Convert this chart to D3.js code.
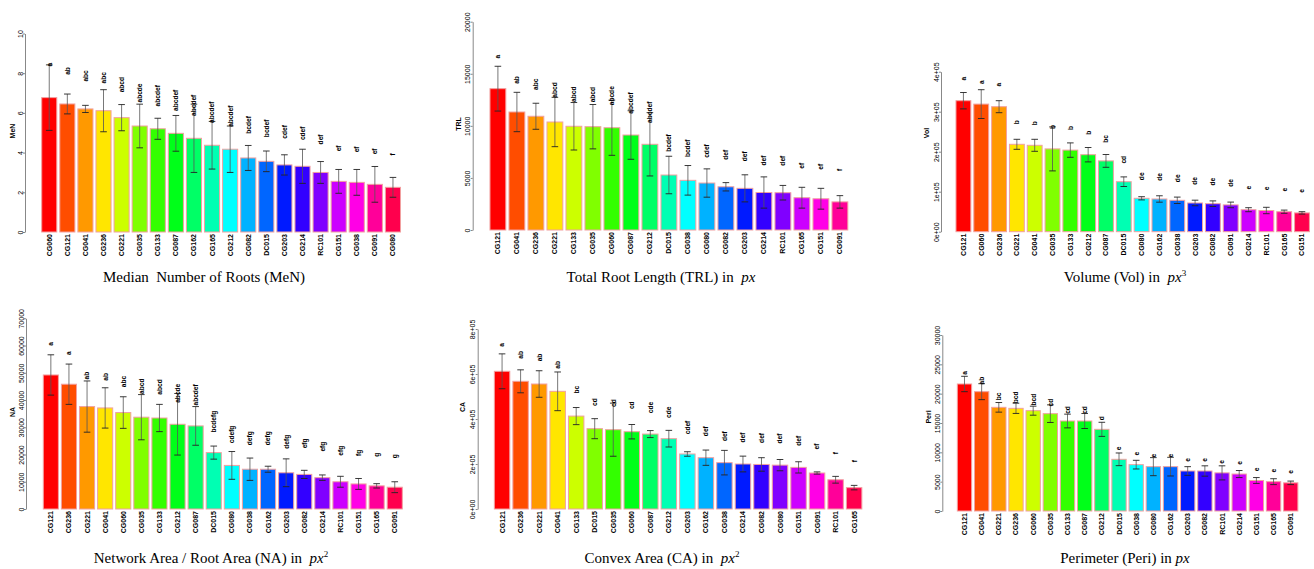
<!DOCTYPE html>
<html>
<head>
<meta charset="utf-8">
<script src="https://cdn.jsdelivr.net/npm/d3@7"></script>
<style>
  body { margin: 0; background: #fff; }
  text { font-family: "Liberation Sans", Arial, sans-serif; }
  .title { font-family: "Liberation Serif", "Times New Roman", serif; white-space: pre; }
</style>
</head>
<body>
<script>
// ---- data ----
const menNames = ["CG060","CG121","CG041","CG236","CG221","CG035","CG133","CG087","CG162","CG165","CG212","CG082","DC015","CG203","CG214","RC101","CG151","CG038","CG091","CG080"];
const menMeans = [6.77,6.45,6.2,6.11,5.76,5.34,5.2,4.97,4.72,4.37,4.17,3.73,3.56,3.38,3.31,3.0,2.55,2.5,2.4,2.25];
const menSd    = [1.65,0.5,0.18,1.06,0.66,1.1,0.53,0.9,1.72,1.2,1.17,0.63,0.52,0.51,0.86,0.55,0.6,0.65,0.9,0.5];
const menLetters = ["a","ab","abc","abc","abcd","abcde","abcdef","abcdef","abcdef","abcdef","abcdef","bcdef","bcdef","cdef","cdef","def","ef","ef","ef","f"];
const menTicks = [0,2,4,6,8,10];

const trlNames = ["CG121","CG041","CG236","CG221","CG133","CG035","CG060","CG087","CG212","DC015","CG038","CG080","CG082","CG203","CG214","RC101","CG165","CG151","CG091"];
const trlMeans = [13570,11330,10920,10370,9960,9920,9820,9120,8230,5280,4770,4510,4150,4000,3600,3580,3100,3000,2700];
const trlSd    = [2150,1890,1250,2370,2280,2130,2650,2330,3040,1800,1420,1360,400,1300,1500,700,1000,1000,600];
const trlLetters = ["a","ab","abc","abcd","abcd","abcd","abcde","abcdef","abcdef","bcdef","bcdef","cdef","def","def","def","def","ef","ef","f"];
const trlTicks = [0,5000,10000,15000,20000];

const volNames = ["CG121","CG060","CG236","CG221","CG041","CG035","CG133","CG212","CG087","DC015","CG080","CG162","CG038","CG203","CG082","CG091","CG214","RC101","CG165","CG151"];
const volMeans = [327500,319000,312500,218500,216000,207000,204000,192500,177000,125000,83500,81800,78500,71800,70000,67000,55000,53000,50000,47000];
const volSd    = [20500,36000,15000,12500,15000,55000,18000,18000,16000,12000,4000,8000,8000,7000,7000,7000,5000,8000,4000,3000];
const volLetters = ["a","a","a","b","b","b","b","b","bc","cd","de","de","de","de","de","de","e","e","e","e"];
const volTicks = [0,100000,200000,300000,400000];

const naNames = ["CG121","CG236","CG221","CG041","CG060","CG035","CG133","CG212","CG087","DC015","CG080","CG038","CG162","CG203","CG082","CG214","RC101","CG151","CG165","CG091"];
const naMeans = [49200,45800,37600,37100,35400,33700,33400,31100,30500,20700,16000,14600,14600,13300,12700,11500,10000,9200,8500,8000];
const naSd    = [7400,7400,9400,7400,5800,8300,5000,11300,7100,2400,5100,4100,1100,5100,1500,1000,2000,2000,800,2000];
const naLetters = ["a","a","ab","ab","abc","abcd","abcd","abcde","abcdef","bcdefg","cdefg","defg","defg","defg","efg","efg","efg","fg","g","g"];
const naTicks = [0,10000,20000,30000,40000,50000,60000,70000];

const caNames = ["CG121","CG236","CG221","CG041","CG133","DC015","CG035","CG060","CG087","CG212","CG203","CG162","CG038","CG214","CG082","CG080","CG151","CG091","RC101","CG165"];
const caMeans = [612000,567500,555500,523000,413000,357000,352500,343500,333000,312500,244500,228000,206000,200000,198000,195000,185000,160000,130000,95000];
const caSd    = [77500,51000,59000,86000,38000,44500,118000,32000,15500,37000,10000,34000,54500,35000,30000,25000,25000,5000,15000,10000];
const caLetters = ["a","ab","ab","ab","bc","cd","cd","cd","cde","cde","cdef","def","def","def","def","def","def","ef","f","f"];
const caTicks = [0,200000,400000,600000,800000];

const periNames = ["CG121","CG041","CG221","CG236","CG060","CG035","CG133","CG087","CG212","DC015","CG038","CG080","CG162","CG203","CG082","RC101","CG214","CG151","CG165","CG091"];
const periMeans = [21650,20340,17670,17500,17100,16590,15340,15340,13920,8810,7900,7560,7560,6820,6820,6500,6300,5200,5000,4800];
const periSd    = [1310,1360,820,870,770,1500,1170,1280,1200,1080,740,1540,1590,740,880,1200,600,500,500,300];
const periLetters = ["a","ab","bc","bcd","bcd","cd","cd","cd","d","e","e","e","e","e","e","e","e","e","e","e"];
const periTicks = [0,5000,10000,15000,20000,25000,30000];

const sci = d => d === 0 ? "0e+00" : (d / 1e5) + "e+05";
const plain = d => String(d);

// R rainbow(20)
const barColor = i => d3.hsl(i / 20 * 360, 1, 0.5).toString();

const svg = d3.select("body").append("svg")
  .attr("width", 1314)
  .attr("height", 569);

const panels = [
  { names: menNames, means: menMeans, sd: menSd, letters: menLetters, ticks: menTicks, fmt: plain,
    x0: 40.2, step: 18.09, axisX: 25, y0: 232, yTop: 33.5, letterOff: 33,
    ylab: "MeN", ylabX: 14.5, ylabY: 131, titleX: 204, titleY: 282,
    title: [["Median  Number of Roots (MeN)"]] },
  { names: trlNames, means: trlMeans, sd: trlSd, letters: trlLetters, ticks: trlTicks, fmt: plain,
    x0: 488.4, step: 19, axisX: 472.7, y0: 230, yTop: 21.7, letterOff: 32,
    ylab: "TRL", ylabX: 461, ylabY: 124, titleX: 661, titleY: 282,
    title: [["Total Root Length (TRL) in  "], ["px", "i"]] },
  { names: volNames, means: volMeans, sd: volSd, letters: volLetters, ticks: volTicks, fmt: sci,
    x0: 954.5, step: 17.82, axisX: 941, y0: 231.7, yTop: 71.7, letterOff: 22,
    ylab: "Vol", ylabX: 928.5, ylabY: 133, titleX: 1125, titleY: 282,
    title: [["Volume (Vol) in  "], ["px", "i"], ["3", "s"]] },
  { names: naNames, means: naMeans, sd: naSd, letters: naLetters, ticks: naTicks, fmt: plain,
    x0: 41.8, step: 18.1, axisX: 26, y0: 509, yTop: 318.3, letterOff: 31,
    ylab: "NA", ylabX: 15, ylabY: 412, titleX: 211, titleY: 563,
    title: [["Network Area / Root Area (NA) in  "], ["px", "i"], ["2", "s"]] },
  { names: caNames, means: caMeans, sd: caSd, letters: caLetters, ticks: caTicks, fmt: sci,
    x0: 492.8, step: 18.53, axisX: 477.7, y0: 509, yTop: 329, letterOff: 26.5,
    ylab: "CA", ylabX: 464.5, ylabY: 407, titleX: 662, titleY: 563,
    title: [["Convex Area (CA) in  "], ["px", "i"], ["2", "s"]] },
  { names: periNames, means: periMeans, sd: periSd, letters: periLetters, ticks: periTicks, fmt: plain,
    x0: 955.9, step: 17.17, axisX: 942.3, y0: 511, yTop: 335, letterOff: 11,
    ylab: "Peri", ylabX: 931, ylabY: 417, titleX: 1125, titleY: 563,
    title: [["Perimeter (Peri) in "], ["px", "i"]] }
];

function drawPanel(p) {
  const g = svg.append("g");
  const n = p.names.length;

  const x = d3.scaleBand()
    .domain(p.names)
    .range([p.x0, p.x0 + n * p.step])
    .paddingInner(1 / 6)
    .paddingOuter(1 / 12);

  const y = d3.scaleLinear()
    .domain([0, d3.max(p.ticks)])
    .range([p.y0, p.yTop]);

  const rows = p.names.map((name, i) => ({ name, i, mean: p.means[i], sd: p.sd[i], letter: p.letters[i] }));

  // bars
  g.selectAll(".bar")
    .data(rows)
    .enter()
    .append("rect")
    .attr("x", d => x(d.name))
    .attr("y", d => y(d.mean))
    .attr("width", x.bandwidth())
    .attr("height", d => y(0) - y(d.mean))
    .attr("fill", d => barColor(d.i))
    .attr("stroke", "#f2a0a0")
    .attr("stroke-width", 1);

  // error bars
  const cx = d => x(d.name) + x.bandwidth() / 2;
  const err = g.selectAll(".err")
    .data(rows)
    .enter()
    .append("g");
  err.append("line")
    .attr("x1", cx).attr("x2", cx)
    .attr("y1", d => y(d.mean + d.sd))
    .attr("y2", d => y(d.mean - d.sd))
    .attr("stroke", "#555")
    .attr("stroke-width", 0.8);
  [1, -1].forEach(s => {
    err.append("line")
      .attr("x1", d => cx(d) - 3.3)
      .attr("x2", d => cx(d) + 3.3)
      .attr("y1", d => y(d.mean + s * d.sd))
      .attr("y2", d => y(d.mean + s * d.sd))
      .attr("stroke", "#222")
      .attr("stroke-width", 0.9);
  });

  // significance letters
  g.selectAll(".letter")
    .data(rows)
    .enter()
    .append("text")
    .attr("transform", d => `translate(${cx(d) + 2.4}, ${y(d.mean) - p.letterOff}) rotate(-90)`)
    .attr("text-anchor", "middle")
    .style("font-size", "6.6px")
    .style("font-weight", "bold")
    .text(d => d.letter);

  // category labels
  g.selectAll(".xlab")
    .data(rows)
    .enter()
    .append("text")
    .attr("transform", d => `translate(${cx(d) + 2.5}, ${p.y0 + 2}) rotate(-90)`)
    .attr("text-anchor", "end")
    .style("font-size", "7px")
    .style("font-weight", "bold")
    .text(d => d.name);

  // y axis
  const ax = g.append("g")
    .attr("transform", `translate(${p.axisX}, 0)`)
    .call(d3.axisLeft(y).tickValues(p.ticks).tickFormat(p.fmt).tickSize(2).tickSizeOuter(0));
  ax.select(".domain").attr("stroke", "#888");
  ax.selectAll(".tick line").attr("stroke", "#888");
  ax.selectAll(".tick text")
    .attr("x", null)
    .attr("dy", null)
    .attr("transform", "translate(-2.5, 0) rotate(-90)")
    .attr("text-anchor", "middle")
    .style("font-size", "7px")
    .style("font-family", "'Liberation Sans', Arial, sans-serif")
    .attr("fill", "#000");

  g.append("text")
    .attr("transform", `translate(${p.ylabX}, ${p.ylabY}) rotate(-90)`)
    .attr("text-anchor", "middle")
    .style("font-size", "7px")
    .style("font-weight", "bold")
    .text(p.ylab);

  // title under the panel
  const t = g.append("text")
    .attr("class", "title")
    .attr("x", p.titleX)
    .attr("y", p.titleY)
    .attr("text-anchor", "middle")
    .style("font-size", "15px");
  p.title.forEach(([s, kind]) => {
    const span = t.append("tspan").text(s);
    if (kind === "i") span.style("font-style", "italic");
    if (kind === "s") span.attr("dy", -6).style("font-size", "9px");
  });
}

panels.forEach(drawPanel);
</script>
</body>
</html>
